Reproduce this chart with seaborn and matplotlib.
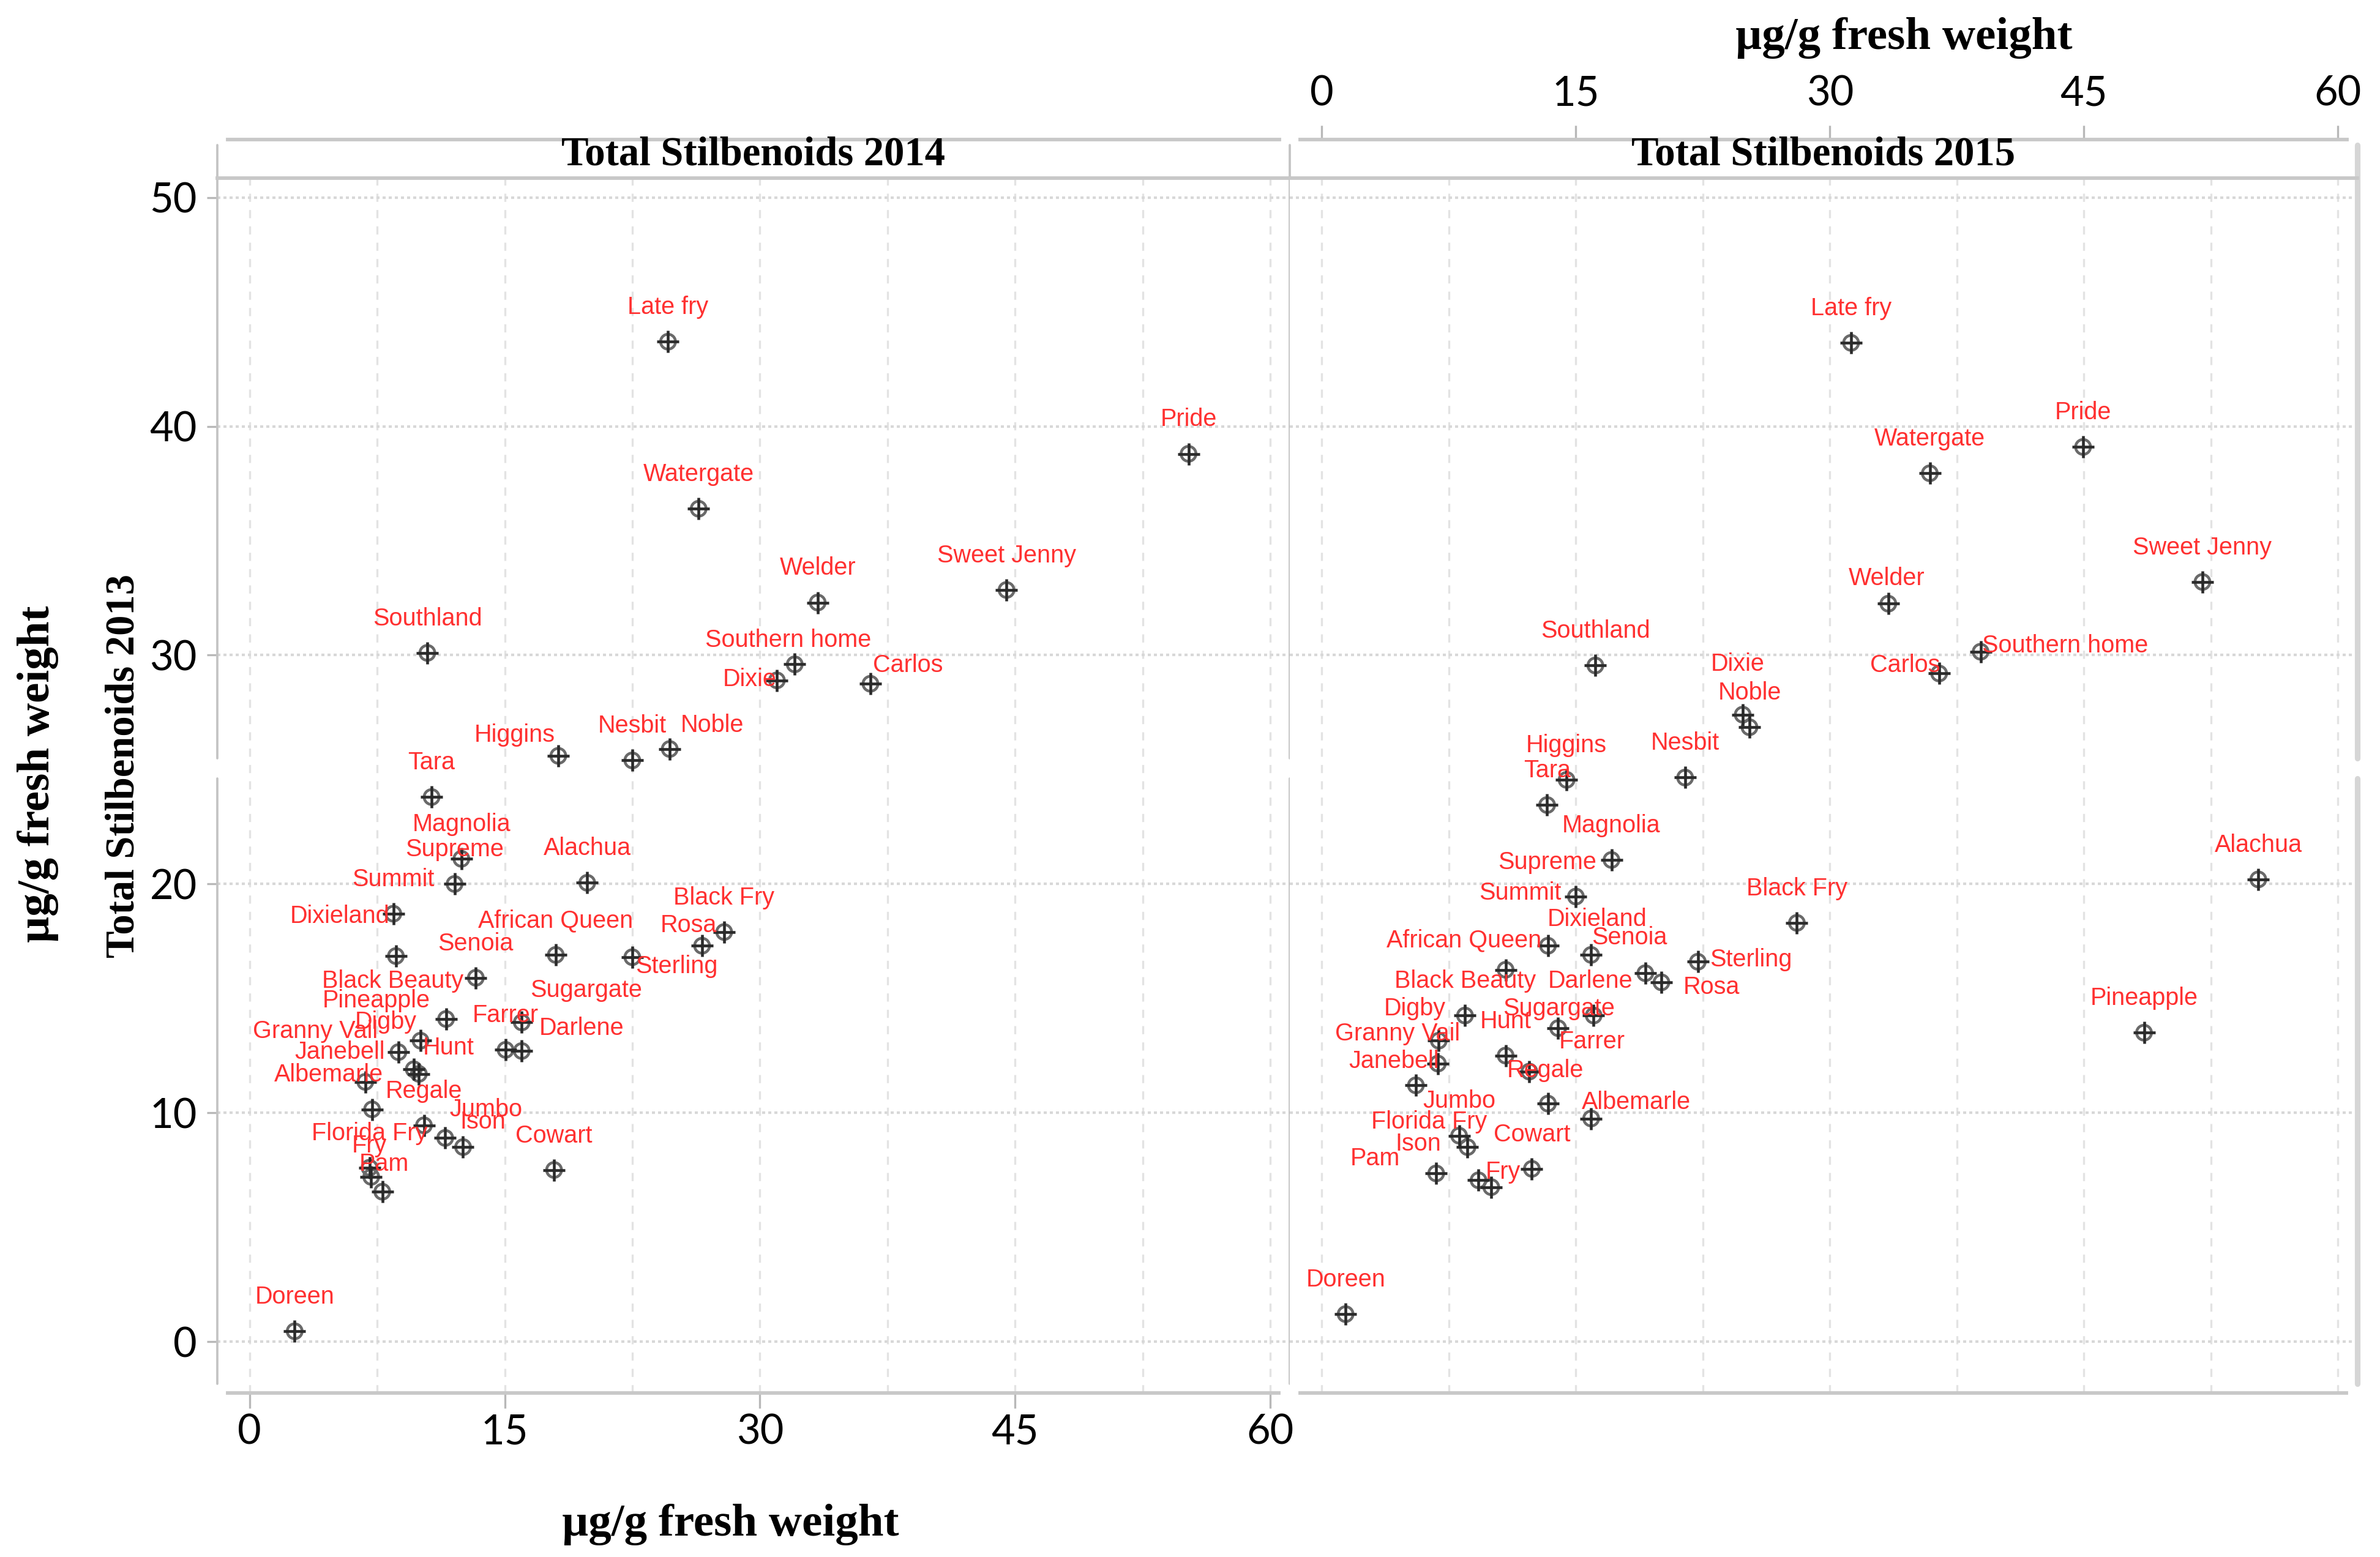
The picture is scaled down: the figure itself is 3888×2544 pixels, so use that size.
#Stilbenoid content of muscadine varieties: 2013 vs 2014 and 2013 vs 2015

import pandas as pd
import seaborn as sns
import matplotlib.pyplot as plt
from matplotlib.ticker import MultipleLocator

# Data (ug/g fresh weight)
varieties = ["Late fry", "Pride", "Watergate", "Welder", "Sweet Jenny", "Southland",
             "Southern home", "Dixie", "Carlos", "Higgins", "Nesbit", "Noble", "Tara",
             "Magnolia", "Supreme", "Summit", "Dixieland", "Alachua", "African Queen",
             "Black Fry", "Rosa", "Sterling", "Senoia", "Black Beauty", "Pineapple",
             "Sugargate", "Farrer", "Darlene", "Digby", "Hunt", "Janebell", "Granny Vail",
             "Albemarle", "Regale", "Jumbo", "Ison", "Cowart", "Florida Fry", "Fry",
             "Pam", "Doreen"]

# panel 1: 2014 (x) against 2013 (y)
x_2014 = [24.6, 55.2, 26.4, 33.4, 44.5, 10.45, 32.05, 31.0, 36.5, 18.15, 22.5, 24.7, 10.7,
          12.45, 12.05, 8.45, 8.6, 19.85, 18.0, 27.9, 26.6, 22.5, 13.3, 11.55, 10.05,
          16.0, 15.05, 16.0, 8.75, 9.65, 9.95, 6.8, 7.2, 10.25, 11.5, 12.55, 17.9, 7.05,
          7.15, 7.8, 2.65]
y_2013_p1 = [43.7, 38.8, 36.4, 32.3, 32.85, 30.1, 29.6, 28.9, 28.75, 25.6, 25.4, 25.9, 23.8,
             21.1, 20.0, 18.7, 16.85, 20.05, 16.9, 17.9, 17.3, 16.8, 15.9, 14.1, 13.15,
             13.95, 12.75, 12.7, 12.65, 11.9, 11.7, 11.35, 10.15, 9.45, 8.9, 8.5, 7.5, 7.6,
             7.2, 6.55, 0.45]

# panel 2: 2015 (x) against 2013 (y)
x_2015 = [31.25, 44.95, 35.9, 33.45, 52.0, 16.15, 38.9, 24.85, 36.45, 14.45, 21.45, 25.25,
          13.3, 17.1, 15.0, 13.35, 15.9, 55.3, 10.85, 28.05, 20.05, 22.2, 19.1, 8.45, 48.55,
          13.95, 13.35, 16.05, 6.9, 10.85, 5.55, 6.85, 15.9, 12.25, 8.1, 6.75, 12.4, 8.6,
          10.0, 9.25, 1.4]
y_2013_p2 = [43.65, 39.1, 37.95, 32.25, 33.2, 29.55, 30.15, 27.4, 29.2, 24.55, 24.65, 26.85,
             23.45, 21.05, 19.45, 17.3, 16.9, 20.2, 16.25, 18.3, 15.7, 16.6, 16.1, 14.25, 13.5,
             13.7, 10.4, 14.25, 13.15, 12.5, 11.2, 12.15, 9.75, 11.8, 9.0, 7.35, 7.55, 8.5,
             6.75, 7.05, 1.2]

# where a label does not sit straight above its point (offset in data units)
label_default = (0.0, 1.5)
offsets_p1 = {"Southern home": (-0.4, 1.05), "Dixie": (-1.6, 0.05), "Carlos": (2.2, 0.8),
              "Higgins": (-2.55, 0.9), "Noble": (2.5, 1.05), "Dixieland": (-3.3, 1.75),
              "Rosa": (-0.8, 0.9), "Sterling": (2.6, -0.4), "Black Beauty": (-3.15, 1.65),
              "Pineapple": (-2.6, 1.75), "Sugargate": (3.8, 1.4), "Darlene": (3.5, 1.0),
              "Digby": (-0.75, 1.3), "Hunt": (2.05, 0.95), "Janebell": (-4.65, 0.95),
              "Granny Vail": (-2.95, 2.2), "Albemarle": (-2.55, 1.5), "Jumbo": (2.4, 1.25),
              "Ison": (1.15, 1.1), "Fry": (-0.1, 1.35), "Pam": (0.1, 1.2)}
offsets_p2 = {"Welder": (-0.1, 1.1), "Southern home": (5.0, 0.27), "Dixie": (-0.3, 2.2),
              "Carlos": (-2.0, 0.36), "Supreme": (-1.7, 1.5), "Summit": (-1.65, 2.3),
              "Dixieland": (0.35, 1.55), "African Queen": (-2.45, 1.3), "Rosa": (2.95, -0.2),
              "Sterling": (3.15, 0.1), "Senoia": (-0.95, 1.55), "Sugargate": (0.05, 0.85),
              "Farrer": (2.6, 2.7), "Darlene": (-0.2, 1.5), "Digby": (-1.4, 1.4),
              "Janebell": (-1.3, 1.05), "Granny Vail": (-2.4, 1.3), "Albemarle": (2.65, 0.7),
              "Regale": (0.95, 0.05), "Ison": (-1.05, 1.3), "Florida Fry": (-2.25, 1.1),
              "Fry": (0.7, 0.65), "Pam": (-6.1, 0.95)}

xticks = [0, 15, 30, 45, 60]
yticks = [0, 10, 20, 30, 40, 50]

sns.set_theme(style="white")
plt.rcParams["font.family"] = ["Lato", "DejaVu Sans"]
plt.rcParams["text.color"] = "black"
plt.rcParams["xtick.labelcolor"] = "black"
plt.rcParams["ytick.labelcolor"] = "black"

grey_line = "#c8c8c8"
label_red = "#ff3030"
serif = ["Liberation Serif", "DejaVu Serif"]

fig = plt.figure(figsize=(12.96, 8.48))
ax1 = fig.add_axes([0.0913, 0.1053, 0.4506, 0.7803])
ax2 = fig.add_axes([0.5419, 0.1053, 0.4486, 0.7803], sharey=ax1)

strip_top = 1.0317


def draw_panel(ax, df, offsets, title):
    # marker: circle with a cross through it
    sns.scatterplot(data=df, x="x", y="y", ax=ax, marker="o", s=34,
                    facecolor="none", edgecolor="#6a6a6a", linewidth=1.1, zorder=3)
    sns.scatterplot(data=df, x="x", y="y", ax=ax, marker="+", s=78,
                    color="#2a2a2a", linewidth=1.1, zorder=4)
    for name, xv, yv in zip(df["variety"], df["x"], df["y"]):
        dx, dy = offsets.get(name, label_default)
        ax.text(xv + dx, yv + dy, name, color=label_red, fontsize=9.5,
                family=["Liberation Sans", "DejaVu Sans"], ha="center", va="center", zorder=5)

    ax.set_xlim(-1.9, 61.15)
    ax.set_ylim(-2.25, 50.85)
    ax.set_xticks(xticks)
    ax.set_yticks(yticks)
    ax.xaxis.set_minor_locator(MultipleLocator(7.5))
    ax.grid(axis="x", which="both", color="#e3e3e3", linestyle=(0, (4, 4)), linewidth=0.8)
    ax.grid(axis="y", which="major", color="#d8d8d8", linestyle=(0, (1.2, 1.2)), linewidth=1.0)
    ax.set_axisbelow(True)
    ax.set_xlabel("")
    ax.set_ylabel("")

    for side in ["left", "right"]:
        ax.spines[side].set_visible(False)
    ax.spines["top"].set_color(grey_line)
    ax.spines["top"].set_linewidth(1.4)
    ax.spines["bottom"].set_color(grey_line)
    ax.spines["bottom"].set_linewidth(1.4)
    ax.spines["bottom"].set_bounds(-1.3, 60.5)

    # strip header above the panel
    strip = ax.secondary_xaxis(strip_top)
    strip.spines["top"].set_color(grey_line)
    strip.spines["top"].set_linewidth(1.4)
    strip.spines["top"].set_bounds(-1.3, 60.55)
    strip.spines["bottom"].set_visible(False)
    ax.text(0.5, 1.019, title, transform=ax.transAxes, ha="center", va="center",
            fontsize=16, fontweight="bold", family=serif)
    return strip


df14 = pd.DataFrame({"variety": varieties, "x": x_2014, "y": y_2013_p1})
df15 = pd.DataFrame({"variety": varieties, "x": x_2015, "y": y_2013_p2})

strip1 = draw_panel(ax1, df14, offsets_p1, "Total Stilbenoids 2014")
strip2 = draw_panel(ax2, df15, offsets_p2, "Total Stilbenoids 2015")

# left panel: bottom x axis and the y axis
ax1.tick_params(axis="x", which="major", bottom=True, length=6, width=0.8, color="#b8b8b8",
                labelsize=16, pad=2)
ax1.tick_params(axis="x", which="minor", length=0)
ax1.tick_params(axis="y", left=True, length=4, width=0.8, color="#b8b8b8", labelsize=16, pad=4)
strip1.set_xticks([])

# right panel: x axis on top, above the strip
ax2.tick_params(axis="x", which="both", bottom=False, labelbottom=False, length=0)
ax2.tick_params(axis="y", left=False, labelleft=False)
strip2.set_xticks(xticks)
strip2.tick_params(axis="x", direction="out", length=5.5, width=0.8, color="#b8b8b8",
                   labelsize=16, pad=5)

# panel frame lines (with the small break half way up)
for ax, xpos, col, lw in [(ax1, 0.0, "#c4c4c4", 0.9), (ax1, 1.0, "#c4c4c4", 0.9),
                          (ax2, 1.0, "#d6d6d6", 2.2)]:
    ax.plot([xpos, xpos], [0.0076, 0.5056], transform=ax.transAxes, color=col, lw=lw,
            clip_on=False, zorder=1)
    ax.plot([xpos, xpos], [0.5226, 1.027], transform=ax.transAxes, color=col, lw=lw,
            clip_on=False, zorder=1)

# axis titles
fig.text(0.307, 0.021, "µg/g fresh weight", ha="center", va="center", fontsize=18,
         fontweight="bold", family=serif)
fig.text(0.800, 0.9756, "µg/g fresh weight", ha="center", va="center", fontsize=18,
         fontweight="bold", family=serif)
fig.text(0.016, 0.503, "µg/g fresh weight", ha="center", va="center", rotation=90,
         fontsize=18, fontweight="bold", family=serif)
fig.text(0.052, 0.508, "Total Stilbenoids 2013", ha="center", va="center", rotation=90,
         fontsize=16, fontweight="bold", family=serif)

plt.savefig("out.png", dpi=300)
